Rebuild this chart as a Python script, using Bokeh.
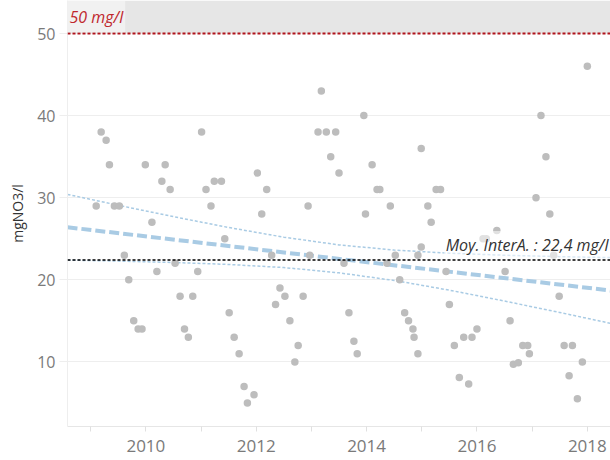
from bokeh.plotting import figure
from bokeh.models import Label, Span, BoxAnnotation, FixedTicker
from bokeh.embed import file_html
from bokeh.resources import INLINE

# ---- data ----
years = [2009.10, 2009.19, 2009.28, 2009.34, 2009.43, 2009.52, 2009.61, 2009.69, 2009.78, 2009.86,
         2009.93, 2009.99, 2010.11, 2010.20, 2010.29, 2010.35, 2010.44, 2010.53, 2010.62, 2010.70,
         2010.77, 2010.85, 2010.94, 2011.01, 2011.09, 2011.18, 2011.24, 2011.37, 2011.43, 2011.51,
         2011.60, 2011.69, 2011.78, 2011.84, 2011.96, 2012.02, 2012.10, 2012.19, 2012.28, 2012.35,
         2012.43, 2012.52, 2012.61, 2012.70, 2012.76, 2012.85, 2012.94, 2012.97, 2013.12, 2013.18,
         2013.27, 2013.35, 2013.44, 2013.50, 2013.59, 2013.68, 2013.77, 2013.83, 2013.95, 2013.98,
         2014.10, 2014.19, 2014.24, 2014.37, 2014.43, 2014.52, 2014.60, 2014.69, 2014.76, 2014.84,
         2014.86, 2014.93, 2014.93, 2014.99, 2014.99, 2015.11, 2015.17, 2015.26, 2015.34, 2015.44,
         2015.50, 2015.59, 2015.68, 2015.76, 2015.85, 2015.91, 2016.00, 2016.11, 2016.17, 2016.36,
         2016.51, 2016.60, 2016.66, 2016.75, 2016.83, 2016.92, 2016.95, 2017.07, 2017.16, 2017.25,
         2017.32, 2017.39, 2017.49, 2017.58, 2017.67, 2017.73, 2017.82, 2017.91, 2018.00]
no3 = [29, 38, 37, 34, 29, 29, 23, 20, 15, 14,
       14, 34, 27, 21, 32, 34, 31, 22, 18, 14,
       13, 18, 21, 38, 31, 29, 32, 32, 25, 16,
       13, 11, 7, 5, 6, 33, 28, 31, 23, 17,
       19, 18, 15, 10, 12, 18, 29, 23, 38, 43,
       38, 35, 38, 33, 22, 16, 12.5, 11, 40, 28,
       34, 31, 31, 22, 29, 23, 20, 16, 15, 14,
       13, 11, 23, 36, 24, 29, 27, 31, 31, 21,
       17, 12, 8.1, 13, 7.3, 13, 14, 25, 25, 26,
       21, 15, 9.7, 9.9, 12, 12, 11, 30, 40, 35,
       28, 23, 18, 12, 8.3, 12, 5.5, 10, 46]

trend_x = [2008.58, 2018.42]
trend_y = [26.4, 18.7]

band_x = [2008.58, 2009.5, 2010.5, 2011.5, 2012.5, 2013.5, 2014.5, 2015.5, 2016.5, 2017.5, 2018.42]
band_upper = [30.4, 29.08, 27.69, 26.37, 25.19, 24.25, 23.62, 23.24, 22.99, 22.82, 22.70]
band_lower = [22.4, 22.28, 22.11, 21.87, 21.49, 20.85, 19.92, 18.74, 17.41, 16.02, 14.70]

limit = 50
mean_val = 22.4
limit_text = "50 mg/l"
mean_text = "Moy. InterA. : 22,4 mg/l"
y_title = "mgNO3/l"

x_major = [2010, 2012, 2014, 2016, 2018]
x_minor = [2009, 2011, 2013, 2015, 2017]
y_ticks = [10, 20, 30, 40, 50]

FONT = "Open Sans"
x_start, x_end = 2008.58, 2018.42

p = figure(width=610, height=460, x_range=(x_start, x_end), y_range=(2.13, 54.02),
           output_backend="svg", toolbar_location=None,
           min_border_left=67, min_border_right=0, min_border_top=0, min_border_bottom=34)
p.outline_line_color = None
p.background_fill_color = "white"
p.border_fill_color = "white"

p.add_layout(BoxAnnotation(bottom=limit, fill_color="#e6e6e6", fill_alpha=1.0,
                           line_color=None, level="underlay"))

p.line(band_x, band_upper, line_color="#a9cbe4", line_width=1.5, line_dash="3 2")
p.line(band_x, band_lower, line_color="#a9cbe4", line_width=1.5, line_dash="3 2")
p.line(trend_x, trend_y, line_color="#a9cbe4", line_width=4, line_dash="10 4")

p.add_layout(Span(location=mean_val, dimension="width", line_color="black",
                  line_width=1.5, line_dash="3 2"))
p.add_layout(Span(location=limit, dimension="width", line_color="#b0141c",
                  line_width=2, line_dash="3 2"))

p.scatter(years, no3, size=7.5, fill_color="#bdbdbd", line_color=None)

p.add_layout(Label(x=x_start, y=limit, x_offset=0, y_offset=1, text=limit_text,
                   text_font=FONT, text_font_style="italic", text_font_size="16px",
                   text_color="#c0272d", text_baseline="bottom", padding=(2, 5),
                   background_fill_color="white", background_fill_alpha=0.45))
p.add_layout(Label(x=x_end, y=mean_val, x_offset=0, y_offset=1, text=mean_text,
                   text_align="right", text_baseline="bottom", padding=(2, 3),
                   text_font=FONT, text_font_style="italic", text_font_size="16px",
                   text_color="#333333",
                   background_fill_color="white", background_fill_alpha=0.55))

p.xgrid.visible = False
p.ygrid.grid_line_color = "#eeeeee"
p.ygrid.ticker = FixedTicker(ticks=y_ticks)

p.xaxis.ticker = FixedTicker(ticks=x_major, minor_ticks=x_minor)
p.xaxis.major_tick_out = 5
p.xaxis.major_tick_in = 0
p.xaxis.minor_tick_out = 5
p.xaxis.minor_tick_in = 0
p.xaxis.major_tick_line_color = "#e0e0e0"
p.xaxis.minor_tick_line_color = "#e0e0e0"
p.xaxis.axis_line_color = "#e6e6e6"
p.xaxis.major_label_text_font = FONT
p.xaxis.major_label_text_font_size = "17px"
p.xaxis.major_label_text_color = "#7a7a7a"
p.xaxis.major_label_standoff = 8

p.yaxis.ticker = FixedTicker(ticks=y_ticks)
p.yaxis.minor_tick_line_color = None
p.yaxis.major_tick_out = 8
p.yaxis.major_tick_in = 0
p.yaxis.major_tick_line_color = "#eeeeee"
p.yaxis.axis_line_color = "#eeeeee"
p.yaxis.major_label_text_font = FONT
p.yaxis.major_label_text_font_size = "16px"
p.yaxis.major_label_text_color = "#7a7a7a"
p.yaxis.major_label_standoff = 4
p.yaxis.axis_label = y_title
p.yaxis.axis_label_text_font = FONT
p.yaxis.axis_label_text_font_size = "14px"
p.yaxis.axis_label_text_font_style = "normal"
p.yaxis.axis_label_text_color = "#333333"
p.yaxis.axis_label_standoff = 7

open("out.html", "w").write(file_html(p, INLINE))
